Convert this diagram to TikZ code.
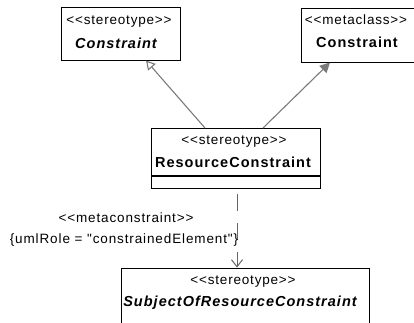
\documentclass[tikz,border=0pt]{standalone}
\usepackage{fontspec}
\setmainfont{Liberation Sans}
\usetikzlibrary{arrows.meta}
\newfontfamily\umlfont[LetterSpace=6]{Liberation Sans}
\newfontfamily\umlbold[LetterSpace=7]{Liberation Sans}
\newfontfamily\umllbl[LetterSpace=6.5]{Liberation Sans}
\begin{document}
\begin{tikzpicture}[x=1pt,y=-1pt,
  umlbox/.style={draw=black,line width=1.2pt,fill=white,inner sep=0pt,anchor=north west},
  stx/.style={font=\umlfont\fontsize{13.5}{15}\selectfont,inner sep=0pt},
  nm/.style={font=\umlbold\fontsize{14.5}{16}\selectfont\bfseries,inner sep=0pt},
  nmi/.style={font=\umlbold\fontsize{14.5}{16}\selectfont\bfseries\itshape,inner sep=0pt},
  lbl/.style={font=\umllbl\fontsize{13.5}{15}\selectfont,inner sep=0pt},
  conn/.style={draw=black!52,line width=1.1pt}]
\useasboundingbox (0,0) rectangle (414,322);
\clip (0,0) rectangle (414,322);
% boxes
\node[umlbox,minimum width=119pt,minimum height=53pt] (b1) at (61,7) {};
\node[umlbox,minimum width=130pt,minimum height=54pt] (b2) at (301,8) {};
\node[umlbox,minimum width=169pt,minimum height=60pt] (b3) at (151,128) {};
\node[umlbox,minimum width=248pt,minimum height=70pt] (b4) at (121,268) {};
\draw[line width=1.2pt] (b3.west |- 0,176) coordinate (d1) -- (b3.east |- 0,176) coordinate (d2);
% texts
\node[stx] (t1a) at (119,22) {<<stereotype>>};
\node[nmi] (t1b) at (116,43) {Constraint};
\node[stx] (t2a) at (356,20) {<<metaclass>>};
\node[nm] (t2b) at (357,42) {Constraint};
\node[stx] (t3a) at (234,142) {<<stereotype>>};
\node[nm] (t3b) at (233,162) {ResourceConstraint};
\node[stx] (t4a) at (243,282) {<<stereotype>>};
\node[nmi] (t4b) at (240,303) {SubjectOfResourceConstraint};
% connector anchors
\coordinate (g1) at (205,128);
\coordinate (g2) at (146,60.5);
\coordinate (e1) at (263,128);
\coordinate (e2) at (330,62.5);
\coordinate (k1) at (237,189);
\coordinate (k2) at (237,267.5);
\draw[conn,-{Triangle[open,length=9pt,width=10pt,fill=white]}] (g1) -- (g2);
\draw[conn,-{Triangle[length=10pt,width=10pt]}] (e1) -- (e2);
\draw[black!60,line width=1pt,dash pattern=on 17pt off 12pt,dash phase=-5pt,-{Straight Barb[length=7pt,width=11pt]}] (k1) -- (k2);
% labels
\node[lbl] (l1) at (126,218) {<<metaconstraint>>};
\node[lbl] (l2) at (124,240) {\{umlRole = "constrainedElement"\}};
\end{tikzpicture}
\end{document}
